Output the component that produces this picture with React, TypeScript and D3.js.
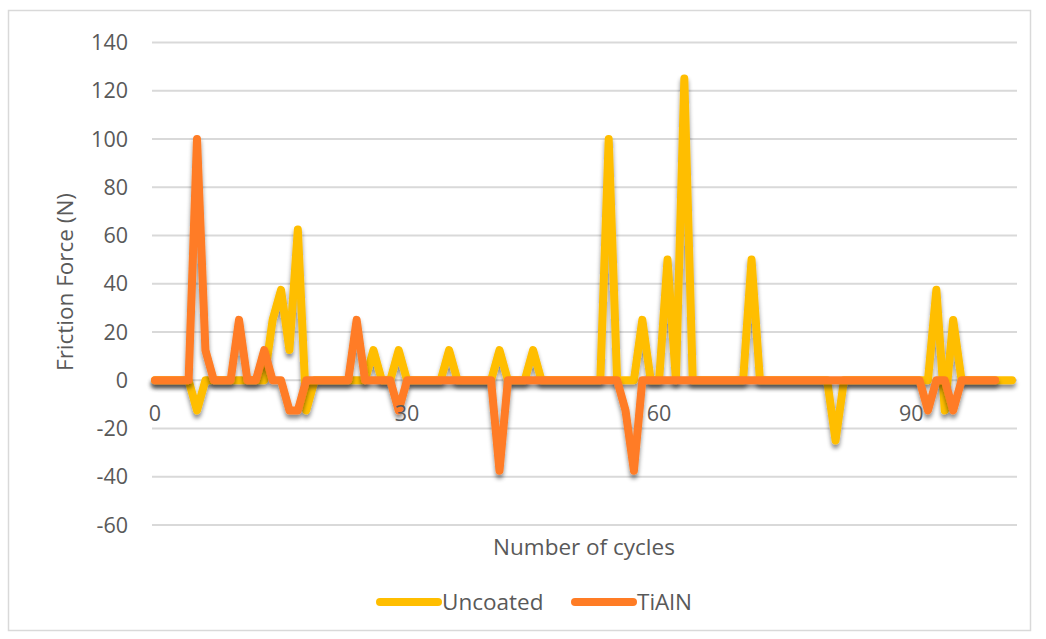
import React from "react";
import * as d3 from "d3";

// Friction force per cycle (N); index = cycle number
const uncoated: number[] = [
  0, 0, 0, 0, 0, -12.5, 0, 0, 0, 0,
  0, 0, 0, 0, 25, 37.5, 12.5, 62.5, -12.5, 0,
  0, 0, 0, 0, 0, 0, 12.5, 0, 0, 12.5,
  0, 0, 0, 0, 0, 12.5, 0, 0, 0, 0,
  0, 12.5, 0, 0, 0, 12.5, 0, 0, 0, 0,
  0, 0, 0, 0, 100, 0, 0, 0, 25, 0,
  0, 50, 0, 125, 0, 0, 0, 0, 0, 0,
  0, 50, 0, 0, 0, 0, 0, 0, 0, 0,
  0, -25, 0, 0, 0, 0, 0, 0, 0, 0,
  0, 0, 0, 37.5, -12.5, 25, 0, 0, 0, 0,
  0, 0, 0,
];

const tialn: number[] = [
  0, 0, 0, 0, 0, 100, 12.5, 0, 0, 0,
  25, 0, 0, 12.5, 0, 0, -12.5, -12.5, 0, 0,
  0, 0, 0, 0, 25, 0, 0, 0, 0, -12.5,
  0, 0, 0, 0, 0, 0, 0, 0, 0, 0,
  0, -37.5, 0, 0, 0, 0, 0, 0, 0, 0,
  0, 0, 0, 0, 0, 0, -12.5, -37.5, 0, 0,
  0, 0, 0, 0, 0, 0, 0, 0, 0, 0,
  0, 0, 0, 0, 0, 0, 0, 0, 0, 0,
  0, 0, 0, 0, 0, 0, 0, 0, 0, 0,
  0, 0, -12.5, 0, 0, -12.5, 0, 0, 0, 0,
  0,
];

const yTicks: number[] = [-60, -40, -20, 0, 20, 40, 60, 80, 100, 120, 140];
const xTicks: number[] = [0, 30, 60, 90];

const seriesList = [
  { name: "Uncoated", values: uncoated, color: "#FFBE00" },
  { name: "TiAlN", values: tialn, color: "#FF7C25" },
];

const W = 1046;
const H = 639;
const FONT = "'Open Sans', 'Liberation Sans', sans-serif";
const TEXT = "#595959";
const GRID = "#d9d9d9";

export default function App() {
  const lastIndex = uncoated.length - 1;
  const x = d3.scaleLinear().domain([0, lastIndex]).range([155, 1012]);
  const y = d3.scaleLinear().domain([-60, 140]).range([525, 42.4]);

  const line = d3
    .line<number>()
    .x((_, i) => x(i))
    .y((d) => y(d));

  const gridLeft = 152;
  const gridRight = 1017;

  return (
    <svg
      width={W}
      height={H}
      style={{ position: "absolute", left: 0, top: 0, background: "#fff" }}
      fontFamily={FONT}
    >
      <defs>
        <filter id="lineShadow" x="-5%" y="-10%" width="110%" height="130%">
          <feDropShadow dx="0" dy="4" stdDeviation="2" floodColor="#000" floodOpacity="0.45" />
        </filter>
      </defs>

      <rect x={8.5} y={10.5} width={1022} height={620} fill="#fff" stroke={GRID} strokeWidth={1.5} />

      {/* horizontal gridlines */}
      {yTicks.map((t) => (
        <line
          key={`g${t}`}
          x1={gridLeft}
          x2={gridRight}
          y1={y(t)}
          y2={y(t)}
          stroke={GRID}
          strokeWidth={2}
        />
      ))}

      {/* y tick labels */}
      {yTicks.map((t) => (
        <text
          key={`yl${t}`}
          x={128}
          y={y(t)}
          dy="0.36em"
          textAnchor="end"
          fontSize={21.5}
          fill={TEXT}
        >
          {t}
        </text>
      ))}

      {/* series lines */}
      {seriesList.map((s) => (
        <path
          key={s.name}
          d={line(s.values) ?? ""}
          fill="none"
          stroke={s.color}
          strokeWidth={8}
          strokeLinejoin="round"
          strokeLinecap="round"
          filter="url(#lineShadow)"
        />
      ))}

      {/* x tick labels */}
      {xTicks.map((t) => (
        <text
          key={`xl${t}`}
          x={x(t)}
          y={413}
          dy="0.36em"
          textAnchor="middle"
          fontSize={21.5}
          fill={TEXT}
        >
          {t}
        </text>
      ))}

      {/* axis titles */}
      <text x={584} y={547} dy="0.36em" textAnchor="middle" fontSize={22.5} fill={TEXT}>
        Number of cycles
      </text>
      <text
        transform={`translate(65,282) rotate(-90)`}
        dy="0.36em"
        textAnchor="middle"
        fontSize={22.5}
        fill={TEXT}
      >
        Friction Force (N)
      </text>

      {/* legend */}
      {seriesList.map((s, i) => {
        const lx = i === 0 ? 380 : 575;
        return (
          <g key={`lg${s.name}`}>
            <line
              x1={lx}
              x2={lx + 58}
              y1={602}
              y2={602}
              stroke={s.color}
              strokeWidth={8}
              strokeLinecap="round"
            />
            <text x={lx + 62} y={602} dy="0.36em" fontSize={22.5} fill={TEXT}>
              {s.name}
            </text>
          </g>
        );
      })}
    </svg>
  );
}
